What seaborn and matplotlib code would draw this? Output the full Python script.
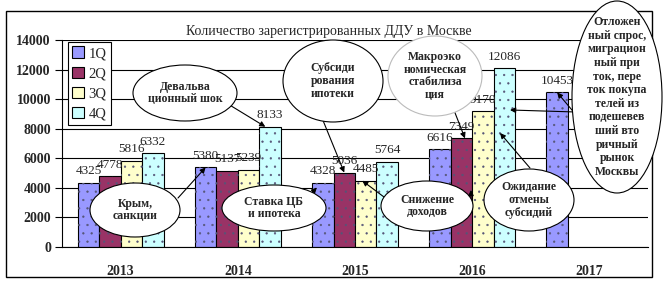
import numpy as np
import pandas as pd
import matplotlib
matplotlib.use("Agg")
import matplotlib.pyplot as plt
from matplotlib.patches import Ellipse, Rectangle
import seaborn as sns

# ---- data ----
years = ["2013", "2014", "2015", "2016", "2017"]
quarters = ["1Q", "2Q", "3Q", "4Q"]
q1 = [4325, 5380, 4328, 6616, 10453]
q2 = [4778, 5137, 5036, 7349, np.nan]
q3 = [5816, 5239, 4485, 9170, np.nan]
q4 = [6332, 8133, 5764, 12086, np.nan]
colors = ["#9999FF", "#993366", "#FFFFCC", "#CCFFFF"]
title = "Количество зарегистрированных ДДУ в Москве"

rows = []
for qname, vals in zip(quarters, [q1, q2, q3, q4]):
    for y, v in zip(years, vals):
        if not np.isnan(v):
            rows.append({"year": y, "quarter": qname, "value": v})
df = pd.DataFrame(rows)

sns.set_style("white")
plt.rcParams["font.family"] = ["Liberation Serif", "DejaVu Serif"]
plt.rcParams["hatch.linewidth"] = 0.4

W, H = 666, 285
fig = plt.figure(figsize=(W / 100, H / 100), dpi=100)

def fx(px):
    return px / W

def fy(py):
    return 1 - py / H

ax = fig.add_axes([fx(62), fy(247), (648 - 62) / W, (247 - 40) / H])

sns.barplot(data=df, x="year", y="value", hue="quarter", hue_order=quarters,
            order=years, palette=colors, width=0.733, edgecolor="black",
            linewidth=0.8, saturation=1, errorbar=None, ax=ax)

# dotted texture overlay
for p in list(ax.patches):
    r = Rectangle(p.get_xy(), p.get_width(), p.get_height(), fill=False,
                  hatch="..", edgecolor="#555577", linewidth=0, zorder=p.get_zorder() + 0.1)
    ax.add_patch(r)

for cont in ax.containers:
    ax.bar_label(cont, fmt="%d", padding=4, fontsize=9.5)

ax.set_ylim(0, 14000)
ax.set_xlim(-0.5, 4.5)
ax.set_yticks(range(0, 14001, 2000))
ax.set_axisbelow(True)
ax.yaxis.grid(True, color="black", lw=0.8)
ax.xaxis.grid(False)
for s in ["top", "right"]:
    ax.spines[s].set_visible(False)
for s in ["left", "bottom"]:
    ax.spines[s].set_color("black")
    ax.spines[s].set_linewidth(0.8)
ax.set_xlabel("")
ax.set_ylabel("")
ax.set_xticks(np.arange(-0.5, 5, 1), minor=True)
ax.tick_params(axis="x", which="major", length=0, pad=13, labelsize=10)
ax.tick_params(axis="x", which="minor", length=5, direction="out", width=0.8, color="black")
ax.tick_params(axis="y", length=5, direction="out", width=0.8, color="black", pad=3, labelsize=10, left=True)
for lbl in ax.get_xticklabels() + ax.get_yticklabels():
    lbl.set_fontweight("bold")

handles, labels = ax.get_legend_handles_labels()
ax.legend(handles, labels, loc="upper left", bbox_to_anchor=(fx(68), fy(42)),
          bbox_transform=fig.transFigure, borderaxespad=0, frameon=True,
          fancybox=False, edgecolor="black", framealpha=1, fontsize=10.5,
          handlelength=0.8, handleheight=0.8, handletextpad=0.3,
          labelspacing=0.45, borderpad=0.3)
ax.get_legend().get_frame().set_linewidth(0.8)

# outer border
fig.patches.append(Rectangle((fx(6), fy(277)), (652 - 6) / W, (277 - 11) / H,
                             transform=fig.transFigure, fill=False,
                             ec="black", lw=1.0, zorder=0))

fig.text(fx(329), fy(31), title, ha="center", va="center", fontsize=10)

# ---- callouts ----
def slot(i):
    return -0.275 + i * 0.1833

arrow_kw = dict(arrowstyle="-|>", color="black", lw=0.8, mutation_scale=8,
                shrinkA=0, shrinkB=0)

def arrow_data(start_px, xdata, ydata):
    ax.annotate("", xy=(xdata, ydata), xycoords="data",
                xytext=(fx(start_px[0]), fy(start_px[1])), textcoords="figure fraction",
                arrowprops=arrow_kw, annotation_clip=False)

def arrow_fig(start_px, end_px):
    ax.annotate("", xy=(fx(end_px[0]), fy(end_px[1])), xycoords="figure fraction",
                xytext=(fx(start_px[0]), fy(start_px[1])), textcoords="figure fraction",
                arrowprops=arrow_kw, annotation_clip=False)

arrow_data((228, 104), 1 + slot(3) - 0.04, q4[1])
arrow_data((322, 118), 2 + slot(1), q2[2])
arrow_data((450, 100), 3 + slot(1) + 0.03, q2[3])
arrow_data((178, 198), 1 + slot(0), q1[1])
arrow_data((302, 203), 2 + slot(0) - 0.05, q1[2] * 0.93)
arrow_data((388, 200), 2 + slot(2) - 0.03, q3[2])
arrow_fig((471, 210), (471, 190))
arrow_fig((530, 168), (500, 133))
arrow_fig((576, 112), (510, 110))
arrow_data((577, 116), 4 + slot(0), q1[4])

callouts = [
    ((185, 93), 104, 56, "Девальва\nционный шок", "black"),
    ((333, 81), 100, 82, "Субсиди\nрования\nипотеки", "black"),
    ((435, 76), 94, 80, "Макроэко\nномическая\nстабилиза\nция", "#bbbbbb"),
    ((135, 210), 90, 54, "Крым,\nсанкции", "black"),
    ((274, 208), 104, 46, "Ставка ЦБ\nи ипотека", "black"),
    ((427, 206), 92, 50, "Снижение\nдоходов", "black"),
    ((529, 200), 90, 62, "Ожидание\nотмены\nсубсидий", "black"),
    ((617, 97), 90, 192, "Отложен\nный спрос,\nмиграцион\nный при\nток, пере\nток покупа\nтелей из\nподешевев\nший вто\nричный\nрынок\nМосквы", "black"),
]
for (cx, cy), w, h, txt, ec in callouts:
    e = Ellipse((fx(cx), fy(cy)), w / W, h / H, transform=fig.transFigure,
                fc="white", ec=ec, lw=0.8, zorder=10)
    fig.patches.append(e)
    fig.text(fx(cx), fy(cy), txt, ha="center", va="center", fontsize=8.5,
             fontweight="bold", linespacing=1.18 if h > 150 else 1.1, zorder=11)

fig.savefig("out.png", dpi=100)
